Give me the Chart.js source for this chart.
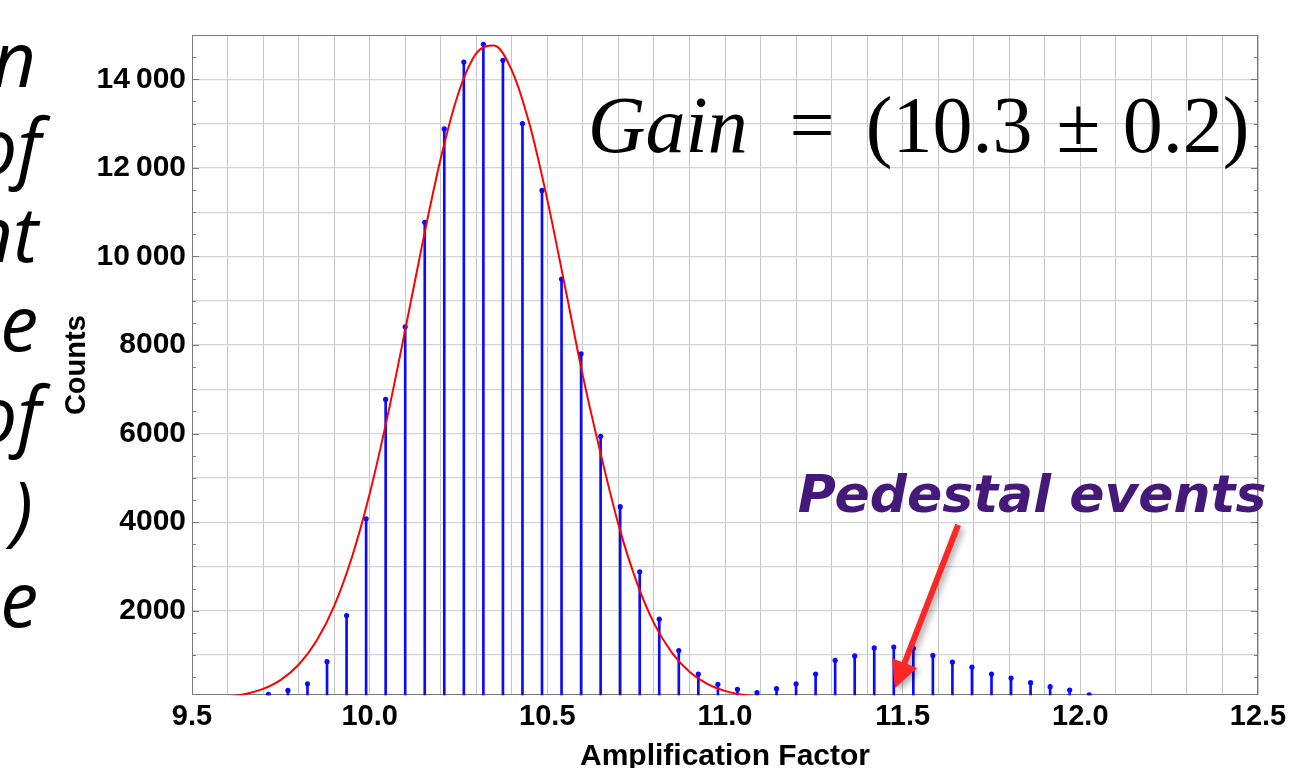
<!DOCTYPE html>
<html>
<head>
<meta charset="utf-8">
<script src="https://cdn.jsdelivr.net/npm/chart.js@4.4.1/dist/chart.umd.min.js"></script>
<style>
html,body{margin:0;padding:0;background:#fff;overflow:hidden;}
#wrap{position:relative;width:1303px;height:768px;overflow:hidden;}
#chartBox{position:absolute;left:0;top:0;width:1303px;height:768px;}
.frag{position:absolute;font-family:"Open Sans";font-style:italic;font-size:76px;line-height:76px;color:#000;text-align:right;white-space:nowrap;}
</style>
</head>
<body>
<div id="wrap">
  <div id="frags"></div>
  <div id="chartBox"><canvas id="c"></canvas></div>
</div>
<script>
// ---------- data ----------
const binCenters = [9.715, 9.770, 9.825, 9.880, 9.935, 9.990, 10.045, 10.100, 10.155, 10.210,
  10.265, 10.320, 10.375, 10.430, 10.485, 10.540, 10.595, 10.650, 10.705, 10.760,
  10.815, 10.870, 10.925, 10.980, 11.035, 11.090, 11.145, 11.200, 11.255, 11.310,
  11.365, 11.420, 11.475, 11.530, 11.585, 11.640, 11.695, 11.750, 11.805, 11.860,
  11.915, 11.970, 12.025];
const counts = [110, 200, 350, 850, 1890, 4075, 6770, 8410, 10770, 12880,
  14390, 14790, 14430, 13000, 11490, 9490, 7800, 5940, 4350, 2880,
  1810, 1100, 570, 340, 225, 150, 240, 350, 570, 880,
  980, 1160, 1180, 1150, 990, 840, 725, 570, 480, 375,
  285, 210, 100];

const fitX = [9.60, 9.65, 9.70, 9.75, 9.80, 9.85, 9.90, 9.95, 10.00, 10.05,
  10.10, 10.15, 10.20, 10.25, 10.30, 10.35, 10.40, 10.45, 10.50, 10.55,
  10.60, 10.65, 10.70, 10.75, 10.80, 10.85, 10.90, 10.95, 11.00, 11.05, 11.10];
const fitY = [58, 120, 235, 439, 780, 1315, 2106, 3208, 4641, 6382,
  8339, 10351, 12212, 13691, 14584, 14765, 14203, 12983, 11277, 9309,
  7302, 5550, 3950, 2680, 1720, 1060, 620, 350, 190, 100, 50];

const xGridValues = [9.5, 9.6, 9.7, 9.8, 9.9, 10.0, 10.1, 10.2, 10.3, 10.4, 10.5, 10.6, 10.7, 10.8, 10.9,
  11.0, 11.1, 11.2, 11.3, 11.4, 11.5, 11.6, 11.7, 11.8, 11.9, 12.0, 12.1, 12.2, 12.3, 12.4, 12.5];
const xLabelValues = [9.5, 10.0, 10.5, 11.0, 11.5, 12.0, 12.5];
const yGridValues = [1000, 2000, 3000, 4000, 5000, 6000, 7000, 8000, 9000, 10000, 11000, 12000, 13000, 14000];
const yLabelValues = [2000, 4000, 6000, 8000, 10000, 12000, 14000];
const yLabels = ['2000', '4000', '6000', '8000', '10\u2009000', '12\u2009000', '14\u2009000'];

const xTitle = 'Amplification Factor';
const yTitle = 'Counts';
const gainParts = ['Gain', '=', '(10.3', '\u00b1', '0.2)'];
const pedestalText = 'Pedestal events';
const sideFragments = ['n', 'of', 'nt', 'e', 'of', ')', 'e'];

// annotation anchors in data coordinates
const gainAnchor = {x: 10.614, y: 12350};
const pedestalAnchor = {x: 11.205, y: 4230};
const arrowFrom = {x: 11.656, y: 3940};
const arrowTo = {x: 11.478, y: 250};

// ---------- side text fragments (layout) ----------
const fragBaselines = [87, 174, 262, 351, 442, 537, 627];
const fragRights = [36, 41, 38, 38, 41, 33, 38];
const fragBox = document.getElementById('frags');
sideFragments.forEach((t, i) => {
  const d = document.createElement('div');
  d.className = 'frag';
  d.textContent = t;
  d.style.right = (1303 - fragRights[i]) + 'px';
  d.style.top = (fragBaselines[i] - 67.5) + 'px';
  fragBox.appendChild(d);
});

// ---------- plugin ----------
const overlay = {
  id: 'overlay',
  beforeDatasetsDraw(chart) {
    const {ctx, chartArea: a, scales: {y}} = chart;
    ctx.save();
    ctx.strokeStyle = '#7a7a7a';
    ctx.lineWidth = 1;
    for (let v = 500; v < 15000; v += 500) {
      const p = Math.round(y.getPixelForValue(v)) + 0.5;
      const L = (v % 2000 === 0) ? 7 : 4;
      ctx.beginPath();
      ctx.moveTo(a.left, p); ctx.lineTo(a.left + L, p);
      ctx.moveTo(a.right, p); ctx.lineTo(a.right - L, p);
      ctx.stroke();
    }
    ctx.strokeRect(Math.round(a.left) + 0.5, Math.round(a.top) + 0.5,
      Math.round(a.right - a.left) - 1, Math.round(a.bottom - a.top) - 1);
    ctx.restore();
  },
  afterDraw(chart) {
    const {ctx, scales: {x, y}} = chart;
    ctx.save();
    // Gain text
    const fs = 80;
    const gaps = [0.52, 0.39, 0.3, 0.28, 0];
    let gx = x.getPixelForValue(gainAnchor.x);
    const gy = y.getPixelForValue(gainAnchor.y);
    ctx.fillStyle = '#000';
    ctx.textBaseline = 'alphabetic';
    ctx.textAlign = 'left';
    gainParts.forEach((t, i) => {
      ctx.font = (i === 0 ? 'italic ' : '') + fs + 'px "Liberation Serif"';
      ctx.fillText(t, gx, gy);
      gx += ctx.measureText(t).width + gaps[i] * fs;
    });
    // Pedestal text
    ctx.font = 'italic bold 52px "DejaVu Sans"';
    ctx.fillStyle = '#45197a';
    ctx.fillText(pedestalText, x.getPixelForValue(pedestalAnchor.x), y.getPixelForValue(pedestalAnchor.y));
    // Arrow
    const x1 = x.getPixelForValue(arrowFrom.x), y1 = y.getPixelForValue(arrowFrom.y);
    const x2 = x.getPixelForValue(arrowTo.x), y2 = y.getPixelForValue(arrowTo.y);
    const dx = x2 - x1, dy = y2 - y1, len = Math.hypot(dx, dy);
    const ux = dx / len, uy = dy / len, nx = -uy, ny = ux;
    const headL = 27, headW = 13.5, shaftW = 3;
    const bx = x2 - ux * headL, by = y2 - uy * headL;
    ctx.shadowColor = 'rgba(0,0,0,0.35)';
    ctx.shadowBlur = 6;
    ctx.shadowOffsetX = 3;
    ctx.shadowOffsetY = 3;
    ctx.fillStyle = '#ff2626';
    ctx.beginPath();
    ctx.moveTo(x1 + nx * shaftW, y1 + ny * shaftW);
    ctx.lineTo(bx + nx * shaftW, by + ny * shaftW);
    ctx.lineTo(bx + nx * headW, by + ny * headW);
    ctx.lineTo(x2, y2);
    ctx.lineTo(bx - nx * headW, by - ny * headW);
    ctx.lineTo(bx - nx * shaftW, by - ny * shaftW);
    ctx.lineTo(x1 - nx * shaftW, y1 - ny * shaftW);
    ctx.closePath();
    ctx.fill();
    ctx.restore();
  }
};

// ---------- chart ----------
const stemPoints = binCenters.map((v, i) => ({x: v, y: counts[i]}));
const fitPoints = fitX.map((v, i) => ({x: v, y: fitY[i]}));
const fam = '"Liberation Sans", Arial, sans-serif';

new Chart(document.getElementById('c'), {
  type: 'bar',
  data: {
    datasets: [
      {
        type: 'line',
        data: fitPoints,
        borderColor: '#ff0000',
        borderWidth: 2,
        pointRadius: 0,
        fill: false,
        cubicInterpolationMode: 'monotone',
        order: 1
      },
      {
        type: 'line',
        data: stemPoints,
        showLine: false,
        pointRadius: 2.6,
        pointBackgroundColor: '#0a0aff',
        pointBorderWidth: 0,
        order: 2
      },
      {
        type: 'bar',
        data: stemPoints,
        backgroundColor: '#0a0aff',
        barThickness: 2,
        order: 3
      }
    ]
  },
  options: {
    responsive: true,
    maintainAspectRatio: false,
    animation: false,
    events: [],
    layout: {padding: {top: 35, right: 45, left: 0, bottom: 0}},
    plugins: {legend: {display: false}, tooltip: {enabled: false}},
    scales: {
      x: {
        type: 'linear',
        min: 9.5,
        max: 12.5,
        offset: false,
        afterBuildTicks: s => { s.ticks = xGridValues.map(v => ({value: v})); },
        afterFit: s => { s.height = 72.7; },
        grid: {color: '#c6c6c6', lineWidth: 1, drawTicks: false, offset: false},
        border: {display: false},
        ticks: {
          autoSkip: false,
          maxRotation: 0,
          padding: 4,
          color: '#000',
          font: {family: fam, size: 29, weight: 'bold', lineHeight: 1.2},
          callback: v => xLabelValues.some(l => Math.abs(l - v) < 1e-6) ? Number(v).toFixed(1) : ''
        },
        title: {
          display: true,
          text: xTitle,
          color: '#000',
          font: {family: fam, size: 30, weight: 'bold', lineHeight: 1},
          padding: {top: 0, bottom: -4}
        }
      },
      y: {
        type: 'linear',
        min: 90,
        max: 15000,
        afterBuildTicks: s => { s.ticks = yGridValues.map(v => ({value: v})); },
        afterFit: s => { s.width = 192; },
        grid: {color: '#d4d4d4', lineWidth: 1.2, drawTicks: false},
        border: {display: false},
        ticks: {
          padding: 6,
          color: '#000',
          font: {family: fam, size: 30, weight: 'bold', lineHeight: 1.2},
          callback: v => { const k = yLabelValues.indexOf(v); return k >= 0 ? yLabels[k] : ''; }
        },
        title: {
          display: true,
          text: yTitle,
          color: '#000',
          font: {family: fam, size: 29, weight: 'bold', lineHeight: 1},
          padding: {top: 62, bottom: 0}
        }
      }
    }
  },
  plugins: [overlay]
});
</script>
</body>
</html>
